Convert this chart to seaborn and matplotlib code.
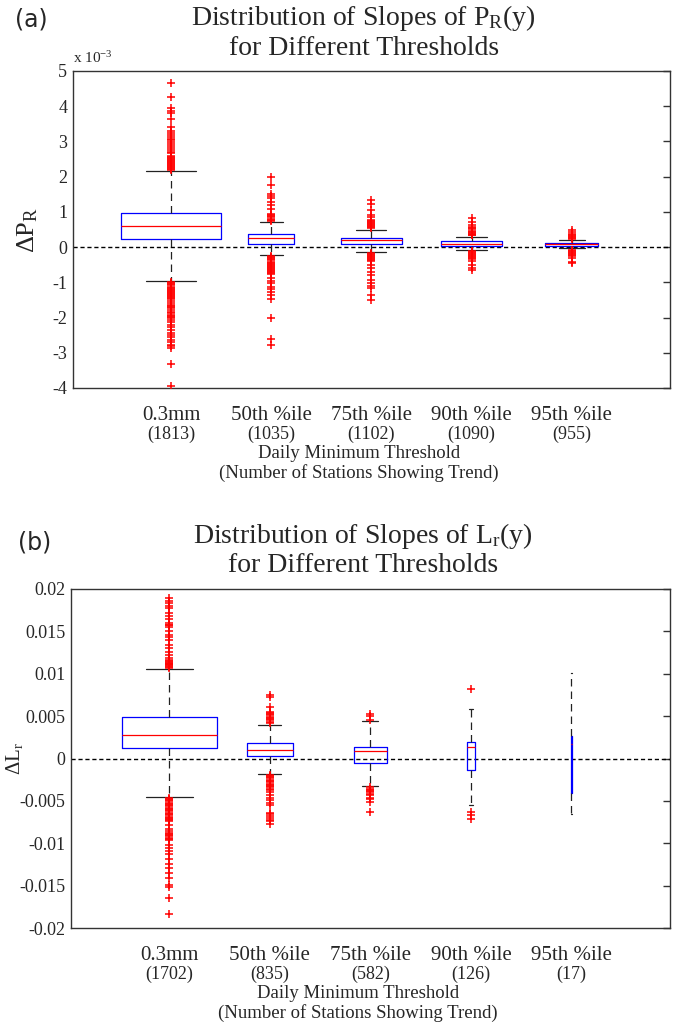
import numpy as np
import pandas as pd
import matplotlib
matplotlib.use("Agg")
import matplotlib.pyplot as plt
import seaborn as sns

# Estilo general (tipo MATLAB)
sns.set_style("white")
plt.rcParams["font.family"] = ["Liberation Serif", "DejaVu Serif"]
plt.rcParams["mathtext.fontset"] = "custom"
plt.rcParams["mathtext.rm"] = "Liberation Serif"
plt.rcParams["mathtext.it"] = "Liberation Serif:italic"
plt.rcParams["axes.unicode_minus"] = False

thresholds = ["0.3mm", "50th %ile", "75th %ile", "90th %ile", "95th %ile"]
positions = [1, 2, 3, 4, 5]

# ---- panel (a): slopes of P_R(y), values in units of 1e-3 ----
counts_a = [1813, 1035, 1102, 1090, 955]
med_a = [0.60, 0.25, 0.19, 0.10, 0.08]
q1_a = [0.22, 0.10, 0.10, 0.04, 0.03]
q3_a = [0.97, 0.36, 0.27, 0.16, 0.13]
whislo_a = [-0.97, -0.23, -0.14, -0.08, -0.04]
whishi_a = [2.15, 0.70, 0.48, 0.30, 0.20]
widths_a = [1.0, 0.46, 0.60, 0.61, 0.53]
out_a = [
    [4.67, 4.26, 3.94, 3.86, 3.80, 3.65, 3.42, 3.30, 3.23, 3.18, 3.13, 3.08,
     3.04, 2.98, 2.94, 2.88, 2.80, 2.75, 2.70, 2.66, 2.60, 2.57, 2.54, 2.51,
     2.48, 2.45, 2.42, 2.39, 2.36, 2.33, 2.30, 2.27, 2.24, 2.21, 2.18,
     -1.00, -1.03, -1.06, -1.09, -1.12, -1.15, -1.18, -1.21, -1.24, -1.27,
     -1.30, -1.33, -1.36, -1.39, -1.42, -1.45, -1.48, -1.53, -1.58, -1.63,
     -1.68, -1.71, -1.74, -1.78, -1.84, -1.88, -1.93, -1.96, -1.99, -2.02,
     -2.06, -2.12, -2.20, -2.27, -2.35, -2.44, -2.50, -2.54, -2.63, -2.70,
     -2.77, -2.82, -2.87, -3.33, -3.95],
    [1.99, 1.76, 1.52, 1.45, 1.38, 1.28, 1.19, 1.09, 0.95, 0.90, 0.87, 0.84,
     0.81, 0.78, 0.75,
     -0.26, -0.29, -0.32, -0.35, -0.38, -0.41, -0.44, -0.47, -0.50, -0.53,
     -0.56, -0.59, -0.62, -0.65, -0.68, -0.71, -0.74, -0.77, -0.89, -0.96,
     -1.03, -1.13, -1.20, -1.27, -1.37, -1.47, -2.00, -2.60, -2.78],
    [1.33, 1.23, 1.04, 0.90, 0.85, 0.77, 0.74, 0.71, 0.68, 0.65, 0.62, 0.59,
     0.56, 0.53,
     -0.16, -0.19, -0.22, -0.25, -0.28, -0.31, -0.34, -0.37, -0.40, -0.51,
     -0.60, -0.70, -0.79, -0.94, -1.03, -1.10, -1.17, -1.36, -1.50],
    [0.82, 0.72, 0.63, 0.56, 0.53, 0.50, 0.47, 0.44, 0.41, 0.38, 0.35, 0.33,
     -0.11, -0.14, -0.17, -0.20, -0.23, -0.26, -0.29, -0.32, -0.35, -0.40,
     -0.51, -0.60, -0.65],
    [0.48, 0.42, 0.38, 0.35, 0.32, 0.29, 0.26, 0.23,
     -0.07, -0.10, -0.13, -0.16, -0.19, -0.22, -0.25, -0.32, -0.42, -0.46],
]

# ---- panel (b): slopes of L_r(y) ----
counts_b = [1702, 835, 582, 126, 17]
med_b = [0.0028, 0.00106, 0.0009, 0.0013, 0.0017]
q1_b = [0.0012, 0.00024, -0.0005, -0.0013, -0.0041]
q3_b = [0.0049, 0.00185, 0.0014, 0.0019, 0.0026]
whislo_b = [-0.0045, -0.0018, -0.0033, -0.0055, -0.0066]
whishi_b = [0.0106, 0.0040, 0.0044, 0.0058, 0.0101]
widths_b = [0.94, 0.46, 0.32, 0.08, 0.012]
out_b = [
    [0.0189, 0.0186, 0.0183, 0.0180, 0.0177, 0.0172, 0.0168, 0.0165, 0.0160,
     0.0158, 0.0157, 0.0155, 0.0150, 0.0146, 0.0143, 0.0140, 0.0134, 0.0130,
     0.0126, 0.0122, 0.0119, 0.0116, 0.0115, 0.0114, 0.0113, 0.0112, 0.0111,
     0.0110, 0.0109, 0.0108, 0.0107,
     -0.0046, -0.00475, -0.0049, -0.00505, -0.0052, -0.00535, -0.0055,
     -0.00565, -0.0058, -0.00595, -0.0061, -0.00625, -0.0064, -0.00655,
     -0.0067, -0.00685, -0.0070, -0.00715, -0.0073, -0.0074, -0.0079, -0.0083,
     -0.0086, -0.00875, -0.0089, -0.00905, -0.0092, -0.00935, -0.0095,
     -0.0096, -0.0102, -0.0105, -0.0109, -0.0113, -0.0119, -0.0125, -0.0129,
     -0.0135, -0.0141, -0.0149, -0.0152, -0.0165, -0.0184],
    [0.0075, 0.0072, 0.0061, 0.0055, 0.0054, 0.00525, 0.0051, 0.00495,
     0.0048, 0.00465, 0.0045, 0.00435, 0.0042,
     -0.0019, -0.00205, -0.0022, -0.00235, -0.0025, -0.00265, -0.0028,
     -0.00295, -0.0031, -0.00325, -0.0034, -0.00355, -0.0037, -0.0039,
     -0.0043, -0.0046, -0.0049, -0.0052, -0.0055, -0.0064, -0.0066, -0.0068,
     -0.0070, -0.0072, -0.0074, -0.0077],
    [0.0053, 0.0050, 0.0046,
     -0.0034, -0.00355, -0.0037, -0.00385, -0.0040, -0.00415, -0.0043,
     -0.0046, -0.0048, -0.0051, -0.0063],
    [0.0082, -0.0063, -0.0067, -0.0071],
    [],
]


def draw_panel(ax, med, q1, q3, lo, hi, widths, outs, counts):
    stats = []
    for i in range(len(med)):
        stats.append(dict(med=med[i], q1=q1[i], q3=q3[i],
                          whislo=lo[i], whishi=hi[i], fliers=[]))
    ax.bxp(stats, positions=positions, widths=widths,
           capwidths=[w / 2 for w in widths], showfliers=False,
           manage_ticks=False,
           boxprops=dict(color="blue", linewidth=0.9),
           medianprops=dict(color="red", linewidth=0.9),
           whiskerprops=dict(color="#222222", linewidth=0.9,
                             linestyle=(0, (6, 4))),
           capprops=dict(color="#222222", linewidth=0.9))

    # outliers
    df = pd.DataFrame({
        "pos": np.repeat(positions, [len(o) for o in outs]),
        "value": np.concatenate([np.asarray(o, dtype=float) for o in outs]),
    })
    sns.scatterplot(data=df, x="pos", y="value", marker="+", color="red",
                    s=32, linewidth=1.1, ax=ax, legend=False, zorder=3)

    ax.axhline(0, color="black", linewidth=1.0, linestyle=(0, (3, 2)),
               zorder=1)

    ax.set_xlim(0.02, 5.98)
    ax.set_xticks(positions)
    ax.set_xticklabels([])
    ax.tick_params(axis="x", length=0)
    ax.tick_params(axis="y", direction="in", length=5, width=1, right=True,
                   labelsize=13, pad=4, color="#333333")
    for sp in ax.spines.values():
        sp.set_color("#333333")
        sp.set_linewidth(1.0)
    ax.set_xlabel("")

    for x, name, n in zip(positions, thresholds, counts):
        ax.annotate(name, xy=(x, 0), xycoords=("data", "axes fraction"),
                    xytext=(0, -23), textcoords="offset points",
                    ha="center", va="baseline", fontsize=15)
        ax.annotate(f"({n})", xy=(x, 0), xycoords=("data", "axes fraction"),
                    xytext=(0, -36.5), textcoords="offset points",
                    ha="center", va="baseline", fontsize=13)
    ax.annotate("Daily Minimum Threshold", xy=(0.479, 0),
                xycoords="axes fraction", xytext=(0, -50.5),
                textcoords="offset points", ha="center", va="baseline",
                fontsize=13.5)
    ax.annotate("(Number of Stations Showing Trend)", xy=(0.479, 0),
                xycoords="axes fraction", xytext=(0, -64.5),
                textcoords="offset points", ha="center", va="baseline",
                fontsize=13.5)


def add_title(ax, line1, off1, off2):
    ax.annotate(line1, xy=(0.487, 1), xycoords="axes fraction",
                xytext=(0, off1), textcoords="offset points",
                ha="center", va="baseline", fontsize=20)
    ax.annotate("for Different Thresholds", xy=(0.487, 1),
                xycoords="axes fraction", xytext=(0, off2),
                textcoords="offset points", ha="center", va="baseline",
                fontsize=20)


fig = plt.figure(figsize=(6.75, 10.36), dpi=100)
ax_a = fig.add_axes([0.108, 0.6255, 0.8846, 0.306])
ax_b = fig.add_axes([0.105, 0.1042, 0.8876, 0.3273])

# panel (a)
draw_panel(ax_a, med_a, q1_a, q3_a, whislo_a, whishi_a, widths_a, out_a,
           counts_a)
ax_a.set_ylim(-4, 5)
ax_a.set_yticks(np.arange(-4, 6, 1))
ax_a.set_yticklabels([f"{v:g}" for v in np.arange(-4, 6, 1)])
ax_a.set_ylabel("ΔP$_\\mathrm{R}$", fontsize=19, labelpad=0)
ax_a.yaxis.set_label_coords(-0.055, 0.5)
ax_a.annotate("x 10$^{-3}$", xy=(0, 1), xycoords="axes fraction",
              xytext=(0, 6), textcoords="offset points", ha="left",
              va="baseline", fontsize=11)
add_title(ax_a, "Distribution of Slopes of P$_\\mathrm{R}$(y)", 33, 11.5)

# panel (b)
draw_panel(ax_b, med_b, q1_b, q3_b, whislo_b, whishi_b, widths_b, out_b,
           counts_b)
ax_b.set_ylim(-0.02, 0.02)
yt = [-0.02, -0.015, -0.01, -0.005, 0, 0.005, 0.01, 0.015, 0.02]
ax_b.set_yticks(yt)
ax_b.set_yticklabels([f"{v:g}" for v in yt])
ax_b.set_ylabel("ΔL$_\\mathrm{r}$", fontsize=15, labelpad=0)
ax_b.yaxis.set_label_coords(-0.077, 0.5)
add_title(ax_b, "Distribution of Slopes of L$_\\mathrm{r}$(y)", 33, 12)

fig.text(0.022, 0.981, "(a)", family="DejaVu Sans", fontsize=17,
         va="center", ha="left")
fig.text(0.027, 0.4768, "(b)", family="DejaVu Sans", fontsize=17,
         va="center", ha="left")

fig.savefig("out.png", dpi=100)
